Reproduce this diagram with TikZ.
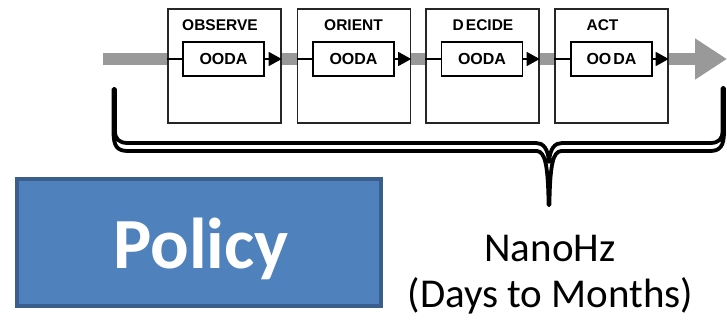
\documentclass[tikz,border=0pt]{standalone}
\usepackage{fontspec}
\setmainfont{Carlito}
\newfontfamily\labelfont{Liberation Sans}
\usetikzlibrary{arrows.meta}
\definecolor{bandgray}{HTML}{999999}
\definecolor{policyfill}{HTML}{4F81BD}
\definecolor{policyline}{HTML}{3A5F8C}
\begin{document}
\begin{tikzpicture}[x=1pt,y=-1pt,
  stage/.style={draw=black!85, line width=1.4pt, fill=white,
    minimum width=113pt, minimum height=114pt, inner sep=0pt},
  ooda/.style={draw=black, line width=1.3pt, fill=white,
    minimum width=81pt, minimum height=34pt, inner sep=0pt,
    font=\labelfont\bfseries\fontsize{16}{19}\selectfont},
  stagetitle/.style={anchor=base, inner sep=0pt,
    font=\labelfont\bfseries\fontsize{15.5}{18}\selectfont},
  link/.style={line width=1.2pt, black},
  linkarrow/.style={link, -{Triangle[length=13pt,width=14pt]}},
  flow/.style={line width=11pt, bandgray, -{Triangle[length=32pt,width=39pt]}},
  bracket/.style={draw=black, fill=white, line width=3.8pt, line join=round},
  policybox/.style={draw=policyline, fill=policyfill, line width=4pt,
    minimum width=364pt, minimum height=127pt, inner sep=0pt},
  bigtext/.style={anchor=base, inner sep=0pt}
]
\useasboundingbox (0,0) rectangle (727,321);

% grey process flow behind the stages
\coordinate (flowstart) at (103,59);
\coordinate (flowend) at (727,59);
\draw[flow] (flowstart) -- (flowend);

% the four stages
\node[stage] (s1) at (224.5,66) {};
\node[stage] (s2) at (354,66) {};
\node[stage] (s3) at (482.5,66) {};
\node[stage] (s4) at (611.5,66) {};

\node[stagetitle] (t1) at (220,31) {OBSERVE};
\node[stagetitle] (t2) at (353.5,31) {ORIENT};
\node[stagetitle] (t3) at (483,31) {D\hspace{2pt}ECIDE};
\node[stagetitle] (t4) at (602.5,31) {ACT};

\node[ooda] (o1) at (223.5,59) {OODA};
\node[ooda] (o2) at (353.5,59) {OODA};
\node[ooda] (o3) at (482,59) {OODA};
\node[ooda] (o4) at (611.5,59) {OO\hspace{2pt}DA};

\foreach \i in {1,...,4}{
  \draw[link] (s\i.west |- o\i.west) -- (o\i.west);
  \draw[linkarrow] (o\i.east) -- (s\i.east |- o\i.east);
}

% curly bracket under the stages
\draw[bracket] (113.5,89) -- (113.5,132)
  .. controls (113.5,146) and (117,151) .. (128,151)
  -- (537,151) .. controls (545,152) and (548,164) .. (548.6,205)
  -- (549.4,205) .. controls (550,164) and (553,152) .. (561,151)
  -- (710,151) .. controls (720,151) and (724,146) .. (724,132)
  -- (724,88) -- (722.5,88) -- (722.5,131)
  .. controls (722.5,139) and (719,143) .. (710,143)
  -- (562,143) .. controls (555,143) and (550,148) .. (549,162)
  .. controls (548,148) and (543,143) .. (536,143)
  -- (128,143) .. controls (119,143) and (115,139) .. (115,131)
  -- (115,89) -- cycle;

% policy box
\node[policybox] (policy) at (199,242.5) {};
\node[bigtext, text=white, font=\bfseries\fontsize{72}{80}\selectfont] (policytext) at (201,268) {Policy};

% time scale
\node[bigtext, font=\fontsize{41}{46}\selectfont] (rate) at (550,261) {NanoHz};
\node[bigtext, font=\fontsize{41}{46}\selectfont] (span) at (550.5,307) {(Days to Months)};
\end{tikzpicture}
\end{document}
